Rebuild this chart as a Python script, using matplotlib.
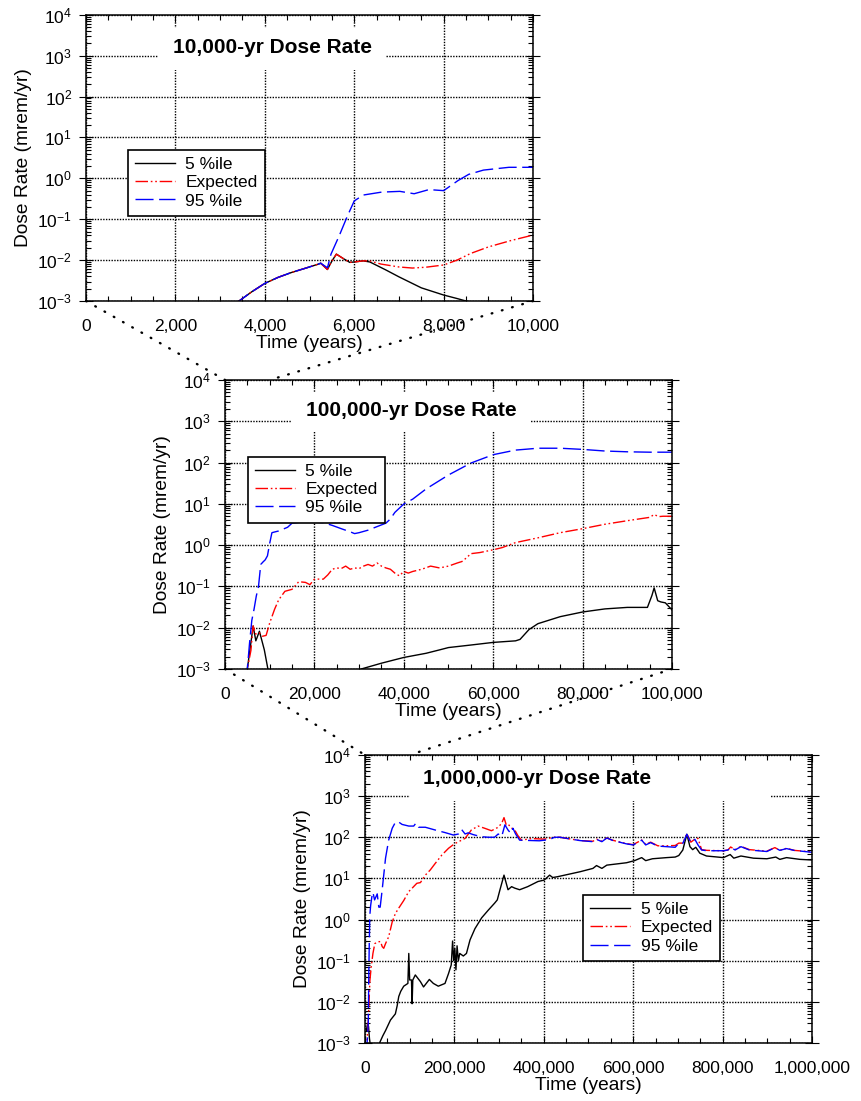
import matplotlib.pyplot as plt
from matplotlib.patches import Rectangle, ConnectionPatch
from matplotlib.ticker import LogLocator, NullFormatter, MultipleLocator, StrMethodFormatter

plt.rcParams['font.family'] = ['Liberation Sans', 'DejaVu Sans']
plt.rcParams['axes.unicode_minus'] = False
plt.rcParams['mathtext.fontset'] = 'custom'
plt.rcParams['mathtext.rm'] = 'Liberation Sans'

# ---------------------------------------------------------------------------
# 10,000-yr panel
t1_black = [3300, 3423, 3700, 4000, 4300, 4600, 4900, 5200, 5250, 5400, 5500,
            5600, 5750, 5900, 6000, 6200, 6350, 6700, 7000, 7500, 8000, 8300,
            8500, 8700]
y1_black = [8e-4, 1e-3, 1.66e-3, 2.7e-3, 3.8e-3, 5.0e-3, 6.3e-3, 8.0e-3, 8.4e-3,
            5.9e-3, 9.5e-3, 1.4e-2, 1.1e-2, 8.8e-3, 9.0e-3, 9.6e-3, 9.0e-3,
            5.8e-3, 3.9e-3, 2.1e-3, 1.4e-3, 1.15e-3, 1.0e-3, 9e-4]

t1_red = [3300, 3423, 3700, 4000, 4300, 4600, 4900, 5200, 5250, 5400, 5500,
          5600, 5750, 5900, 6000, 6200, 6350, 6600, 7000, 7300, 7600, 8000,
          8300, 8600, 9000, 9500, 10000]
y1_red = [8e-4, 1e-3, 1.66e-3, 2.7e-3, 3.8e-3, 5.0e-3, 6.3e-3, 8.0e-3, 8.4e-3,
          5.9e-3, 9.5e-3, 1.4e-2, 1.1e-2, 8.8e-3, 9.0e-3, 9.6e-3, 9.5e-3,
          8.0e-3, 6.8e-3, 6.4e-3, 6.7e-3, 7.6e-3, 1.0e-2, 1.45e-2, 2.1e-2,
          3.0e-2, 4.1e-2]

t1_blue = [3300, 3423, 3700, 4000, 4300, 4600, 4900, 5200, 5250, 5400, 5480,
           5670, 5840, 6000, 6200, 6610, 7020, 7340, 7670, 8000, 8320, 8560,
           8890, 9460, 10000]
y1_blue = [8e-4, 1e-3, 1.66e-3, 2.7e-3, 3.8e-3, 5.0e-3, 6.3e-3, 8.0e-3, 8.4e-3,
           6.5e-3, 1.4e-2, 4.1e-2, 0.115, 0.28, 0.39, 0.46, 0.48, 0.42, 0.53,
           0.50, 0.88, 1.25, 1.59, 1.86, 1.86]

# ---------------------------------------------------------------------------
# 100,000-yr panel
t2_black = [4500, 5000, 5500, 6300, 6900, 7700, 8800, 9600, 10500, 29000, 30500,
            35000, 40000, 45000, 48000, 50000, 55000, 60000, 65000, 66000, 68000,
            70000, 75000, 80000, 85000, 90000, 94500, 95500, 96000, 96800, 97500,
            98500, 100000]
y2_black = [5e-4, 1e-3, 2.5e-3, 1.1e-2, 4.8e-3, 8.2e-3, 2.9e-3, 1e-3, 5e-4, 5e-4,
            1e-3, 1.38e-3, 1.9e-3, 2.4e-3, 2.9e-3, 3.3e-3, 3.8e-3, 4.4e-3, 4.8e-3,
            5.2e-3, 9e-3, 1.25e-2, 1.85e-2, 2.4e-2, 2.85e-2, 3.1e-2, 3.1e-2,
            6e-2, 9.2e-2, 4.5e-2, 4.2e-2, 4.0e-2, 2.7e-2]

t2_red = [4500, 5000, 5800, 6300, 6900, 7700, 8400, 9200, 10000, 11100, 12000,
          13400, 15000, 16500, 18000, 19000, 20000, 22000, 23000, 24000, 25000,
          26000, 27000, 28000, 29000, 30000, 31000, 32000, 33000, 34000, 35000,
          36000, 37000, 38000, 39000, 40000, 41000, 42000, 44000, 46000, 48000,
          50000, 52000, 53000, 54000, 55000, 57000, 60000, 62000, 65000, 70000,
          75000, 80000, 85000, 90000, 95000, 96000, 97000, 98000, 100000]
y2_red = [5e-4, 1e-3, 2.8e-3, 1.1e-2, 7e-3, 7.5e-3, 6.2e-3, 6.5e-3, 1.3e-2,
          2.8e-2, 4.7e-2, 7.6e-2, 8.5e-2, 0.13, 0.125, 0.11, 0.15, 0.15, 0.19,
          0.26, 0.28, 0.27, 0.31, 0.26, 0.28, 0.27, 0.31, 0.34, 0.31, 0.37, 0.31,
          0.28, 0.26, 0.21, 0.18, 0.23, 0.21, 0.23, 0.26, 0.31, 0.28, 0.31, 0.37,
          0.40, 0.49, 0.62, 0.66, 0.77, 0.87, 1.15, 1.5, 2.0, 2.5, 3.2, 3.9, 4.7,
          5.5, 4.9, 5.0, 5.0]

t2_blue = [4500, 5000, 5500, 6000, 6500, 7000, 7500, 8000, 8500, 9000, 9500,
           10000, 10500, 12000, 14000, 15000, 17000, 20000, 22000, 24000, 26000,
           28000, 29000, 30000, 32000, 34000, 36000, 37000, 38000, 40000, 42000,
           45000, 50000, 55000, 60000, 65000, 70000, 75000, 80000, 85000, 90000,
           95000, 100000]
y2_blue = [5e-4, 1e-3, 4.3e-3, 1.5e-2, 2.8e-2, 5.8e-2, 0.1, 0.34, 0.39, 0.44,
           0.55, 1.1, 2.0, 2.2, 2.7, 3.4, 3.6, 3.6, 3.5, 3.0, 2.5, 2.1, 1.9, 2.0,
           2.3, 2.8, 3.4, 4.3, 6.2, 9.9, 13, 23, 50, 97, 155, 200, 222, 222, 208,
           190, 182, 178, 178]

# ---------------------------------------------------------------------------
# 1,000,000-yr panel
t3_black = [3000, 6000, 8000, 10000, 12500, 30000, 32600, 40000, 46000, 57000,
            68000, 72000, 75600, 80000, 86700, 96000, 98000, 100000, 104000,
            105500, 107000, 112600, 124000, 131000, 144000, 153000, 164000,
            179000, 187000, 193000, 196000, 198500, 201000, 203500, 206000,
            209000, 212000, 220000, 227000, 235000, 246000, 261000, 276000,
            290000, 296000, 302000, 311000, 320000, 328000, 335000, 346000,
            364000, 387000, 401000, 413000, 420000, 431000, 481000, 510000,
            518000, 530000, 541000, 585000, 603000, 619000, 628000, 643000,
            675000, 694000, 702000, 711000, 720000, 727000, 733000, 740000,
            749000, 764000, 802000, 817000, 825000, 841000, 869000, 899000,
            919000, 928000, 943000, 973000, 1000000]
y3_black = [2e-3, 3e-3, 2.5e-3, 1.3e-3, 8e-4, 8e-4, 1e-3, 1.5e-3, 2.0e-3, 3.6e-3,
            5.1e-3, 8e-3, 1.35e-2, 1.8e-2, 2.4e-2, 2.8e-2, 0.15, 3.4e-2, 3.4e-2,
            9e-3, 3.4e-2, 4.5e-2, 3.1e-2, 2.3e-2, 3.5e-2, 2.8e-2, 2.4e-2, 2.8e-2,
            4.9e-2, 7.9e-2, 0.3, 0.1, 0.2, 6e-2, 0.23, 0.1, 0.15, 0.13, 0.15,
            0.32, 0.6, 1.1, 1.7, 2.5, 3.0, 5.3, 12, 5.3, 6.3, 5.8, 5.3, 6.3, 8.4,
            9.1, 12, 10.5, 11, 14.5, 17.5, 20.5, 17.5, 21, 24, 27, 32, 27, 30,
            32, 33, 36, 49, 118, 59, 50, 57, 41, 35, 32, 38, 31, 35, 31, 30, 33,
            29, 32, 29, 28]

t3_red = [3000, 7000, 9000, 11000, 14000, 17800, 22000, 29600, 35000, 38500,
          42000, 46000, 53000, 61000, 68000, 75600, 86700, 98000, 105000, 116000,
          124000, 135000, 146000, 157000, 172000, 187000, 200000, 224000, 238000,
          253000, 268000, 283000, 298000, 306000, 311000, 316000, 320000, 327000,
          335000, 342000, 350000, 372000, 401000, 415000, 424000, 436000, 481000,
          510000, 518000, 530000, 541000, 555000, 585000, 600000, 619000, 628000,
          639000, 655000, 675000, 694000, 702000, 711000, 720000, 729000, 738000,
          745000, 753000, 765000, 802000, 812000, 818000, 828000, 841000, 860000,
          899000, 917000, 928000, 943000, 960000, 1000000]
y3_red = [5e-4, 3e-3, 9.1e-3, 3.3e-2, 7.1e-2, 0.15, 0.26, 0.29, 0.29, 0.22, 0.2,
          0.26, 0.38, 0.88, 1.4, 1.9, 2.9, 4.8, 5.7, 7.6, 7.9, 12, 16, 23, 37, 54,
          69, 94, 150, 187, 165, 144, 175, 220, 300, 200, 210, 170, 150, 110, 85,
          93, 90, 96, 100, 100, 83, 80, 90, 80, 96, 84, 70, 66, 86, 67, 76, 62,
          62, 63, 72, 72, 122, 76, 90, 94, 50, 48, 47, 49, 58, 50, 60, 50, 46,
          56, 48, 54, 48, 44]

t3_blue = [3000, 7400, 8600, 9500, 10700, 12700, 15500, 17800, 21500, 27400,
           31000, 34000, 38500, 46000, 53000, 61000, 68000, 74000, 83000, 98000,
           109000, 114000, 120000, 135000, 157000, 179000, 198000, 209000, 216000,
           224000, 231000, 242000, 260000, 276000, 290000, 298000, 306000, 313000,
           320000, 326000, 331000, 337000, 346000, 360000, 390000, 413000, 424000,
           436000, 481000, 510000, 518000, 530000, 541000, 555000, 585000, 600000,
           619000, 628000, 639000, 655000, 675000, 694000, 702000, 711000, 720000,
           729000, 738000, 745000, 753000, 765000, 802000, 812000, 818000, 828000,
           841000, 860000, 899000, 917000, 928000, 943000, 960000, 1000000]
y3_blue = [5e-4, 3e-3, 5e-2, 0.22, 1.2, 2.2, 3.6, 4.6, 3.0, 4.2, 2.0, 2.0, 5.3,
           31, 85, 166, 230, 240, 205, 187, 187, 220, 175, 175, 150, 130, 113,
           120, 155, 120, 128, 116, 103, 100, 100, 120, 105, 200, 150, 125, 165,
           120, 85, 84, 82, 88, 100, 100, 83, 78, 89, 78, 96, 83, 69, 65, 85, 65,
           74, 61, 59, 57, 71, 71, 118, 74, 89, 65, 49, 47, 47, 49, 57, 49, 59,
           49, 45, 56, 48, 53, 48, 43]

# ---------------------------------------------------------------------------
labels = ['5 %ile', 'Expected', '95 %ile']
titles = ['10,000-yr Dose Rate', '100,000-yr Dose Rate', '1,000,000-yr Dose Rate']

fig = plt.figure(figsize=(8.62, 11.01), dpi=100)
ax1 = fig.add_axes([0.0998, 0.7266, 0.5186, 0.2600])
ax2 = fig.add_axes([0.2610, 0.3924, 0.5186, 0.2625])
ax3 = fig.add_axes([0.4234, 0.0527, 0.5186, 0.2616])

red_ls = (0, (9, 2, 1.2, 2, 1.2, 2))
blue_ls = (0, (13, 4))


def setup(ax, xmax, major, minor, title, box, title_xy, leg_xy):
    ax.set_yscale('log')
    ax.set_xlim(0, xmax)
    ax.set_ylim(1e-3, 1e4)
    ax.xaxis.set_major_locator(MultipleLocator(major))
    ax.xaxis.set_minor_locator(MultipleLocator(minor))
    ax.xaxis.set_major_formatter(StrMethodFormatter('{x:,.0f}'))
    ax.yaxis.set_major_locator(LogLocator(base=10, numticks=12))
    ax.yaxis.set_minor_locator(LogLocator(base=10, subs=range(2, 10), numticks=12))
    ax.yaxis.set_minor_formatter(NullFormatter())
    ax.grid(which='major', color='k', linestyle=(0, (1, 1)), linewidth=1.0)
    ax.tick_params(which='both', direction='in', top=True, right=True,
                   labelsize=12.5, width=0.8)
    ax.tick_params(axis='x', which='major', length=5, pad=13)
    ax.tick_params(axis='x', which='minor', length=3.5)
    ax.tick_params(axis='y', which='major', direction='inout', length=10, pad=5)
    ax.tick_params(axis='y', which='minor', length=3.5)
    for s in ax.spines.values():
        s.set_linewidth(1.1)
    ax.set_xlabel('Time (years)', fontsize=13.8, labelpad=1)
    ax.set_ylabel('Dose Rate (mrem/yr)', fontsize=13.8, labelpad=4)
    ax.add_patch(Rectangle((box[0], box[1]), box[2] - box[0], box[3] - box[1],
                           transform=ax.transAxes, facecolor='white',
                           edgecolor='none', zorder=1.8))
    ax.text(title_xy[0], title_xy[1], title, transform=ax.transAxes,
            ha='center', va='center', fontsize=15, fontweight='bold', zorder=4)
    leg = ax.legend(labels, loc='upper left', bbox_to_anchor=leg_xy,
                    borderaxespad=0, fontsize=12.5, frameon=True, fancybox=False,
                    framealpha=1, edgecolor='k', borderpad=0.42, labelspacing=0.17,
                    handlelength=2.3, handletextpad=0.6)
    leg.get_frame().set_linewidth(1.2)
    leg.set_zorder(5)


for ax, (tb, yb, tr, yr, tbl, ybl) in zip(
        [ax1, ax2, ax3],
        [(t1_black, y1_black, t1_red, y1_red, t1_blue, y1_blue),
         (t2_black, y2_black, t2_red, y2_red, t2_blue, y2_blue),
         (t3_black, y3_black, t3_red, y3_red, t3_blue, y3_blue)]):
    ax.plot(tb, yb, color='k', lw=1.0, zorder=2.1)
    ax.plot(tr, yr, color='#ff0000', lw=1.0, linestyle=red_ls, zorder=2.2)
    ax.plot(tbl, ybl, color='#0000ff', lw=1.0, linestyle=blue_ls, zorder=2.3)

setup(ax1, 10000, 2000, 500, titles[0], (0.161, 0.808, 0.671, 0.955),
      (0.418, 0.885), (0.093, 0.528))
setup(ax2, 100000, 20000, 5000, titles[1], (0.150, 0.824, 0.685, 0.955),
      (0.417, 0.893), (0.051, 0.734))
setup(ax3, 1000000, 200000, 50000, titles[2], (0.100, 0.840, 0.905, 0.965),
      (0.386, 0.918), (0.488, 0.514))

# dotted zoom connectors
dot_ls = (0, (0.3, 4.2))
for axA, axB, xr in [(ax1, ax2, 10000), (ax2, ax3, 100000)]:
    c1 = ConnectionPatch(xyA=(0, 0), coordsA=axA.transAxes, xyB=(0, 1),
                         coordsB=axB.transAxes, color='k', lw=1.7,
                         linestyle=dot_ls, capstyle='round', zorder=10)
    c2 = ConnectionPatch(xyA=(1, 0), coordsA=axA.transAxes, xyB=(xr, 1e4),
                         coordsB=axB.transData, color='k', lw=1.7,
                         linestyle=dot_ls, capstyle='round', zorder=10)
    fig.add_artist(c1)
    fig.add_artist(c2)

fig.savefig('out.png', dpi=100)
